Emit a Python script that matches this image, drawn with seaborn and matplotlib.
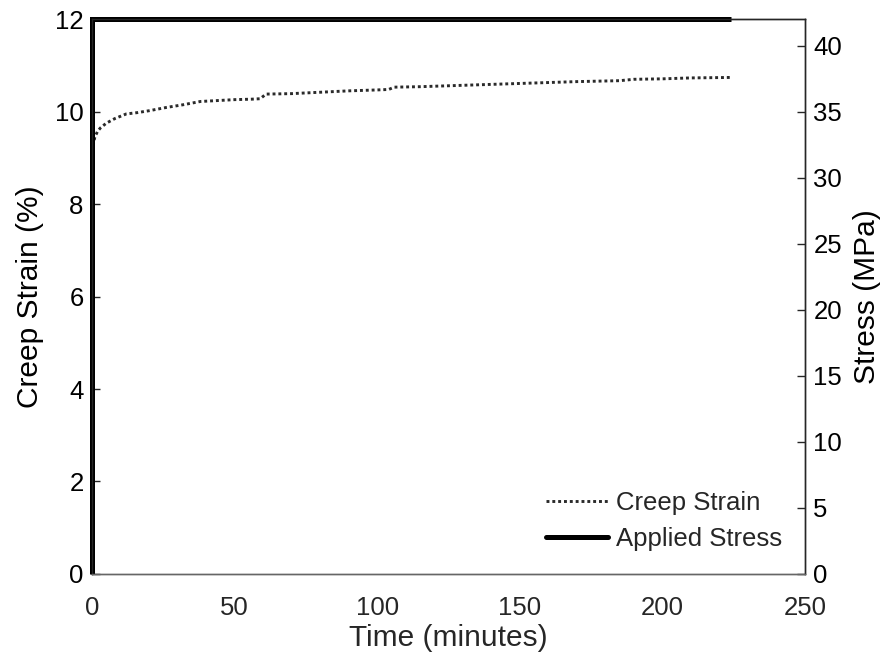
import matplotlib
matplotlib.use("Agg")
import matplotlib.pyplot as plt
import seaborn as sns
import pandas as pd
from matplotlib.lines import Line2D

sns.set_style("white")
plt.rcParams['font.family'] = ['Liberation Sans', 'DejaVu Sans']

# Creep strain data (time in minutes, strain in %)
time_min = [0, 0.2, 0.5, 1, 2, 3, 5, 8, 12, 16, 20, 26, 32, 38, 44, 50, 56, 59, 61, 70, 80, 90, 100, 104, 106, 115, 125, 140, 155, 170, 185, 190, 200, 210, 224]
strain_pct = [8.0, 8.9, 9.3, 9.45, 9.58, 9.65, 9.75, 9.85, 9.95, 9.98, 10.02, 10.09, 10.15, 10.22, 10.24, 10.26, 10.27, 10.28, 10.38, 10.39, 10.42, 10.45, 10.47, 10.48, 10.53, 10.54, 10.56, 10.59, 10.62, 10.65, 10.67, 10.70, 10.71, 10.73, 10.74]

# Applied stress (MPa)
stress_time = [0, 0, 224]
stress_mpa = [0, 42, 42]

strain_df = pd.DataFrame({"Time": time_min, "Strain": strain_pct})
stress_df = pd.DataFrame({"Time": stress_time, "Stress": stress_mpa})

fig = plt.figure(figsize=(8.93, 6.62), dpi=100)
ax = fig.add_axes([0.103, 0.133, 0.7985, 0.838])
ax2 = ax.twinx()

strain_style = dict(color="#2a2a2a", linestyle=(0, (1.0, 1.0)), linewidth=2.1)
sns.lineplot(data=strain_df, x="Time", y="Strain", ax=ax, sort=False,
             estimator=None, **strain_style)
sns.lineplot(data=stress_df, x="Time", y="Stress", ax=ax2, sort=False,
             estimator=None, color="black", linewidth=3.6,
             solid_capstyle="butt", solid_joinstyle="miter", clip_on=False)

ax.set_xlim(0, 250)
ax.set_ylim(0, 12)
ax2.set_ylim(0, 42)
ax.set_xticks([0, 50, 100, 150, 200, 250])
ax.set_yticks([0, 2, 4, 6, 8, 10, 12])
ax2.set_yticks([0, 5, 10, 15, 20, 25, 30, 35, 40])

ax.set_xlabel("Time (minutes)", fontsize=21.5, color="#262626", labelpad=3)
ax.set_ylabel("Creep Strain (%)", fontsize=21.5, color="black", labelpad=8)
ax2.set_ylabel("Stress (MPa)", fontsize=21.5, color="black", labelpad=8)

for a in (ax, ax2):
    a.tick_params(axis="both", direction="in", length=6, width=1,
                  labelsize=18.5, colors="#262626", labelcolor="black")
    for s in a.spines.values():
        s.set_linewidth(1)
        s.set_color("#262626")
ax.tick_params(axis="x", labelcolor="#262626", pad=16)
ax.tick_params(axis="y", pad=6)
ax2.tick_params(axis="y", pad=6)
ax.spines["bottom"].set_color("#666666")
ax2.spines["bottom"].set_color("#666666")

handles = [Line2D([], [], **strain_style),
           Line2D([], [], color="black", linewidth=3.6)]
ax2.legend(handles, ["Creep Strain", "Applied Stress"], loc="lower right",
           frameon=False, fontsize=18.5, handlelength=2.4, handletextpad=0.3,
           labelspacing=0.45, bbox_to_anchor=(1.0, 0.0))

fig.savefig("out.png", dpi=100)
